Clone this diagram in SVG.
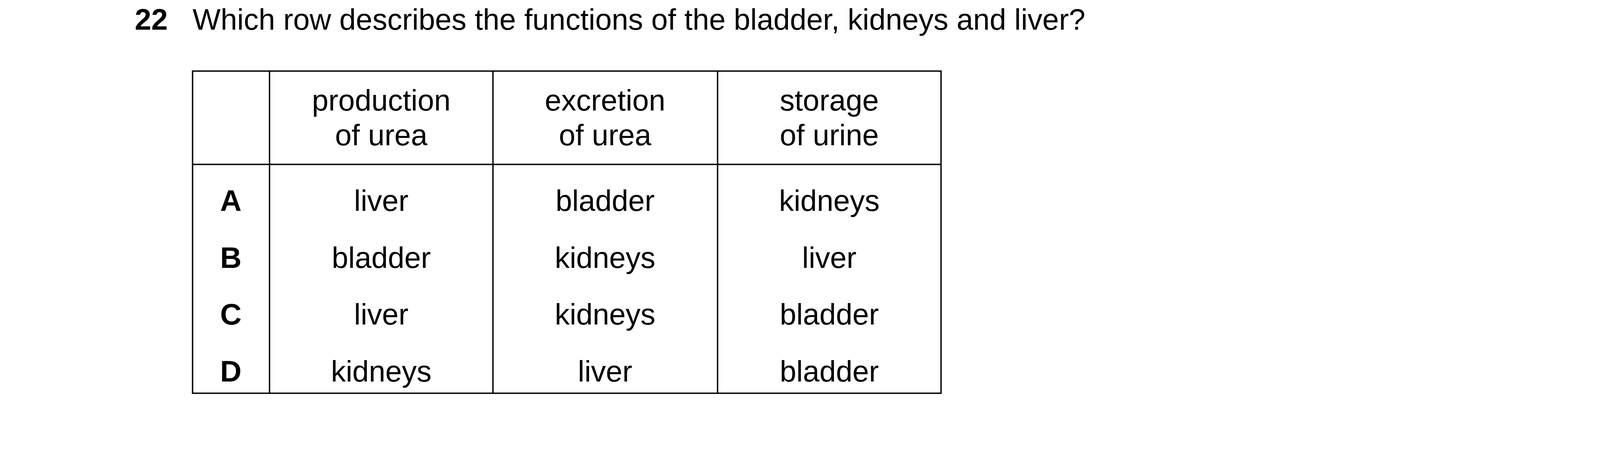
<svg xmlns="http://www.w3.org/2000/svg" width="4132" height="1201" viewBox="0 0 4132 1201">
<style>
text{font-family:"Liberation Sans",Arial,sans-serif;font-size:76px;fill:#000}
.b{font-weight:bold}
.c{text-anchor:middle}
.ln{stroke:#000;stroke-width:3.5;fill:none}
</style>
<rect width="4132" height="1201" fill="#fff"/>
<g id="question">
<text class="b" x="345" y="76">22</text>
<text x="493" y="76">Which row describes the functions of the bladder, kidneys and liver?</text>
</g>
<g id="grid">
<rect class="ln" x="493" y="182" width="1916" height="825"/>
<line class="ln" x1="493" y1="421" x2="2409" y2="421"/>
<line class="ln" x1="690" y1="182" x2="690" y2="1007"/>
<line class="ln" x1="1262" y1="182" x2="1262" y2="1007"/>
<line class="ln" x1="1837" y1="182" x2="1837" y2="1007"/>
</g>
<g id="header">
<text class="c" x="976" y="283">production</text>
<text class="c" x="976" y="372">of urea</text>
<text class="c" x="1549" y="283">excretion</text>
<text class="c" x="1549" y="372">of urea</text>
<text class="c" x="2123" y="283">storage</text>
<text class="c" x="2123" y="372">of urine</text>
</g>
<g id="rowA">
<text class="b c" x="591" y="540">A</text>
<text class="c" x="976" y="540">liver</text>
<text class="c" x="1549" y="540">bladder</text>
<text class="c" x="2123" y="540">kidneys</text>
</g>
<g id="rowB">
<text class="b c" x="591" y="686">B</text>
<text class="c" x="976" y="686">bladder</text>
<text class="c" x="1549" y="686">kidneys</text>
<text class="c" x="2123" y="686">liver</text>
</g>
<g id="rowC">
<text class="b c" x="591" y="831">C</text>
<text class="c" x="976" y="831">liver</text>
<text class="c" x="1549" y="831">kidneys</text>
<text class="c" x="2123" y="831">bladder</text>
</g>
<g id="rowD">
<text class="b c" x="591" y="977">D</text>
<text class="c" x="976" y="977">kidneys</text>
<text class="c" x="1549" y="977">liver</text>
<text class="c" x="2123" y="977">bladder</text>
</g>
</svg>
